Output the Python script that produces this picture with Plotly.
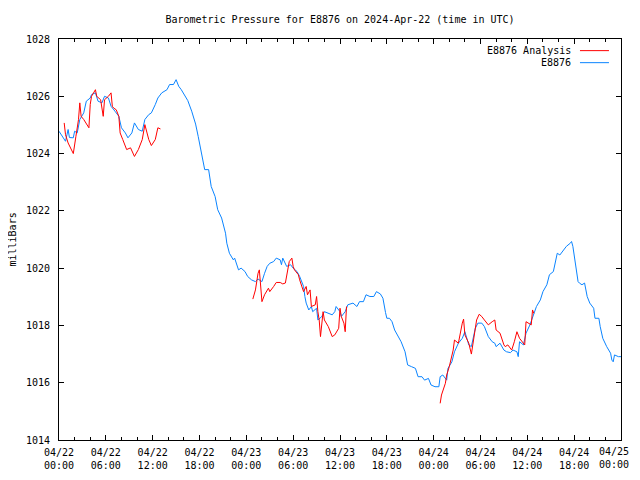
import pandas as pd
import plotly.graph_objects as go

BASE = "2024-04-22 00:00"
END = "2024-04-25 00:00"

# E8876 observations: minutes after BASE, pressure (mb)
obs_min = [0, 50, 70, 80, 110, 120, 140, 160, 190, 210, 240, 250, 280, 300, 330, 350, 380, 400,
           430, 460, 480, 510, 530, 560, 580, 610, 640, 660, 690, 710, 740, 760, 790, 830, 850,
           880, 900, 920, 940, 970, 990, 1020, 1050, 1070, 1080, 1110, 1120, 1150, 1170, 1200,
           1220, 1250, 1280, 1290, 1310, 1340, 1350, 1380, 1400, 1430, 1450, 1480, 1510, 1530,
           1560, 1580, 1600, 1620, 1650, 1670, 1700, 1710, 1720, 1750, 1780, 1800, 1830, 1850,
           1880, 1890, 1900, 1920, 1940, 1950, 1980, 1990, 2020, 2040, 2070, 2100, 2120, 2130,
           2160, 2170, 2200, 2220, 2260, 2290, 2310, 2340, 2360, 2390, 2420, 2440, 2470, 2490,
           2510, 2520, 2540, 2560, 2580, 2610, 2630, 2660, 2680, 2710, 2740, 2760, 2790, 2810,
           2840, 2860, 2890, 2920, 2930, 2950, 2980, 2990, 3020, 3040, 3070, 3100, 3120, 3150,
           3170, 3200, 3220, 3250, 3270, 3300, 3330, 3350, 3360, 3390, 3420, 3440, 3470, 3490,
           3520, 3530, 3540, 3570, 3590, 3620, 3650, 3670, 3700, 3720, 3750, 3770, 3800, 3830,
           3850, 3880, 3900, 3930, 3940, 3950, 3970, 3980, 3990, 4000, 4020, 4040, 4060, 4080,
           4110, 4120, 4150, 4160, 4180, 4210, 4240, 4250, 4260, 4270, 4300, 4320]
obs_mb = [1024.78, 1024.43, 1024.84, 1024.56, 1024.55, 1024.78, 1024.72, 1025.19, 1025.42, 1025.83,
          1025.94, 1026.06, 1026.12, 1025.83, 1025.77, 1026.00, 1025.94, 1025.65, 1025.48, 1025.30,
          1024.90, 1024.72, 1024.55, 1024.72, 1025.07, 1024.84, 1024.78, 1025.19, 1025.36, 1025.42,
          1025.71, 1025.94, 1026.12, 1026.23, 1026.41, 1026.41, 1026.58, 1026.35, 1026.23, 1026.00,
          1025.85, 1025.48, 1025.03, 1024.60, 1024.37, 1023.79, 1023.44, 1023.44, 1022.85, 1022.50,
          1022.04, 1021.75, 1021.22, 1020.87, 1020.52, 1020.29, 1020.35, 1019.94, 1020.00, 1019.88,
          1019.71, 1019.59, 1019.53, 1019.62, 1019.53, 1019.82, 1020.06, 1020.17, 1020.23, 1020.35,
          1020.29, 1020.12, 1020.35, 1020.06, 1020.12, 1020.00, 1019.88, 1019.71, 1019.36, 1019.01,
          1018.78, 1018.54, 1018.66, 1018.48, 1018.60, 1018.19, 1018.31, 1018.48, 1018.42, 1018.37,
          1018.48, 1018.66, 1018.48, 1018.31, 1018.48, 1018.72, 1018.78, 1018.66, 1018.83, 1018.83,
          1019.07, 1019.01, 1019.01, 1019.18, 1019.10, 1018.95, 1018.45, 1018.25, 1018.25, 1018.13,
          1017.84, 1017.61, 1017.43, 1017.08, 1016.62, 1016.56, 1016.50, 1016.21, 1016.21, 1016.09,
          1016.15, 1015.92, 1015.86, 1015.86, 1016.21, 1016.27, 1016.09, 1016.50, 1016.73, 1017.08,
          1017.38, 1017.55, 1017.78, 1017.32, 1017.26, 1017.90, 1018.08, 1018.08, 1017.96, 1017.61,
          1017.43, 1017.38, 1017.26, 1017.38, 1017.14, 1017.08, 1017.05, 1017.14, 1017.08, 1016.91,
          1017.43, 1017.32, 1017.73, 1018.02, 1018.42, 1018.66, 1018.89, 1019.18, 1019.42, 1019.77,
          1019.88, 1020.52, 1020.46, 1020.64, 1020.76, 1020.87, 1020.93, 1020.76, 1020.17, 1019.77,
          1019.53, 1019.48, 1019.42, 1019.48, 1019.01, 1018.78, 1018.60, 1018.25, 1018.25, 1017.96,
          1017.55, 1017.26, 1017.03, 1016.79, 1016.73, 1016.97, 1016.91, 1016.91]

# E8876 Analysis: three separate runs
ana1_min = [40, 50, 70, 100, 110, 130, 150, 160, 170, 190, 230, 240, 250, 280, 290, 320, 340, 350,
            380, 400, 410, 420, 440, 460, 470, 490, 520, 550, 580, 610, 640, 660, 690, 710, 740,
            760, 780]
ana1_mb = [1025.07, 1024.66, 1024.37, 1024.08, 1024.00, 1024.60, 1025.19, 1025.77, 1025.30, 1025.19,
           1024.90, 1025.71, 1026.00, 1026.23, 1026.00, 1025.88, 1025.30, 1025.88, 1026.00, 1026.12,
           1025.65, 1025.59, 1025.53, 1025.30, 1024.72, 1024.49, 1024.14, 1024.20, 1023.90, 1024.14,
           1024.49, 1025.01, 1024.49, 1024.28, 1024.49, 1024.90, 1024.86]
ana2_min = [1490, 1510, 1530, 1540, 1560, 1580, 1610, 1620, 1650, 1670, 1700, 1720, 1740, 1760,
            1770, 1790, 1800, 1810, 1840, 1850, 1880, 1900, 1910, 1930, 1940, 1970, 1980, 1990,
            2000, 2010, 2030, 2040, 2070, 2100, 2120, 2150, 2160, 2170, 2190, 2200, 2210]
ana2_mb = [1018.92, 1019.24, 1019.82, 1019.94, 1018.83, 1019.07, 1019.30, 1019.18, 1019.36, 1019.50,
           1019.50, 1019.45, 1019.48, 1019.94, 1020.23, 1020.35, 1020.06, 1019.94, 1019.77, 1019.59,
           1019.18, 1019.36, 1019.07, 1019.24, 1018.66, 1018.72, 1019.01, 1018.48, 1018.19, 1017.61,
           1018.48, 1018.19, 1017.96, 1017.61, 1017.67, 1017.90, 1018.60, 1018.31, 1018.08, 1017.78,
           1018.66]
ana3_min = [2930, 2940, 2970, 2980, 3000, 3030, 3040, 3070, 3100, 3110, 3120, 3150, 3170, 3200,
            3210, 3230, 3250, 3270, 3300, 3330, 3350, 3360, 3390, 3420, 3430, 3450, 3480, 3500,
            3520, 3540, 3560, 3580, 3590, 3610, 3630, 3640, 3650]
ana3_mb = [1015.28, 1015.57, 1015.98, 1016.27, 1016.56, 1017.14, 1017.49, 1017.38, 1018.08, 1018.22,
           1017.67, 1017.38, 1017.00, 1017.84, 1018.19, 1018.39, 1018.31, 1018.19, 1018.02, 1018.13,
           1018.19, 1017.84, 1017.73, 1017.32, 1017.26, 1017.32, 1017.14, 1017.43, 1017.78, 1017.55,
           1017.43, 1017.32, 1018.13, 1018.08, 1018.02, 1018.54, 1018.42]

TITLE = "Barometric Pressure for E8876 on 2024-Apr-22 (time in UTC)"
Y_TITLE = "milliBars"
LEGEND_NAMES = ["E8876 Analysis", "E8876"]
TICK_FORMAT = "%m/%d<br>%H:%M"
RED = "#ff0000"
BLUE = "#0a84ff"
FONT = "DejaVu Sans Mono, Liberation Mono, monospace"

base = pd.Timestamp(BASE)
end = pd.Timestamp(END)


def to_time(mins):
    return [None if m is None else base + pd.Timedelta(minutes=m) for m in mins]


ana_min = ana1_min + [None] + ana2_min + [None] + ana3_min
ana_mb = ana1_mb + [None] + ana2_mb + [None] + ana3_mb

fig = go.Figure()
fig.add_trace(go.Scatter(x=to_time(obs_min), y=obs_mb, mode="lines",
                         line=dict(color=BLUE, width=1), name=LEGEND_NAMES[1]))
fig.add_trace(go.Scatter(x=to_time(ana_min), y=ana_mb, mode="lines", connectgaps=False,
                         line=dict(color=RED, width=1), name=LEGEND_NAMES[0]))

axis_common = dict(showline=True, linecolor="black", linewidth=1, mirror="allticks",
                   ticks="inside", tickcolor="black", showgrid=False, zeroline=False,
                   automargin=False,
                   tickfont=dict(family=FONT, size=10, color="black"))

# major ticks every 6 h; the one at the right border is labelled separately below
major_ticks = list(pd.date_range(base, end, freq="6h"))[:-1]
fig.update_xaxes(range=[base, end], type="date",
                 tickmode="array", tickvals=major_ticks, tickformat=TICK_FORMAT,
                 ticklen=5, ticklabelstandoff=3,
                 minor=dict(dtick=2 * 3600 * 1000, tick0=base, ticks="inside", ticklen=3,
                            tickcolor="black", showgrid=False),
                 **axis_common)
fig.update_yaxes(range=[1014, 1028], dtick=2, tick0=1014, ticklen=5, ticklabelstandoff=6,
                 **axis_common)

# the final tick label would overflow the page edge; draw it nudged inside
fig.add_annotation(x=1.018, y=-0.046, xref="paper", yref="paper",
                   text=end.strftime(TICK_FORMAT), showarrow=False,
                   xanchor="right", yanchor="middle", align="center",
                   font=dict(family=FONT, size=10, color="black"))

# y-axis title placed like gnuplot's (rotated, far left)
fig.add_annotation(x=-0.0836, y=0.5, xref="paper", yref="paper", text=Y_TITLE,
                   showarrow=False, textangle=-90, xanchor="center", yanchor="middle",
                   font=dict(family=FONT, size=10, color="black"))

# Legend drawn gnuplot-style: text right-aligned, sample line to the right
legend_y = [0.971, 0.941]
legend_colors = [RED, BLUE]
for name, yy, col in zip(LEGEND_NAMES, legend_y, legend_colors):
    fig.add_annotation(x=0.9146, y=yy, xref="paper", yref="paper", text=name, showarrow=False,
                       xanchor="right", yanchor="middle",
                       font=dict(family=FONT, size=10, color="black"))
    fig.add_shape(type="line", xref="paper", yref="paper", x0=0.927, x1=0.9786, y0=yy, y1=yy,
                  line=dict(color=col, width=1))

# the page body adds an 8px inset, so the figure fits inside it
fig.update_layout(
    width=624, height=472,
    margin=dict(l=51, r=11, t=31, b=40),
    paper_bgcolor="white", plot_bgcolor="white",
    showlegend=False,
    title=dict(text=TITLE, x=0.5, xref="paper", xanchor="center", y=1 - 11 / 472,
               yanchor="middle", font=dict(family=FONT, size=10, color="black")),
)

fig.write_html("out.html")
